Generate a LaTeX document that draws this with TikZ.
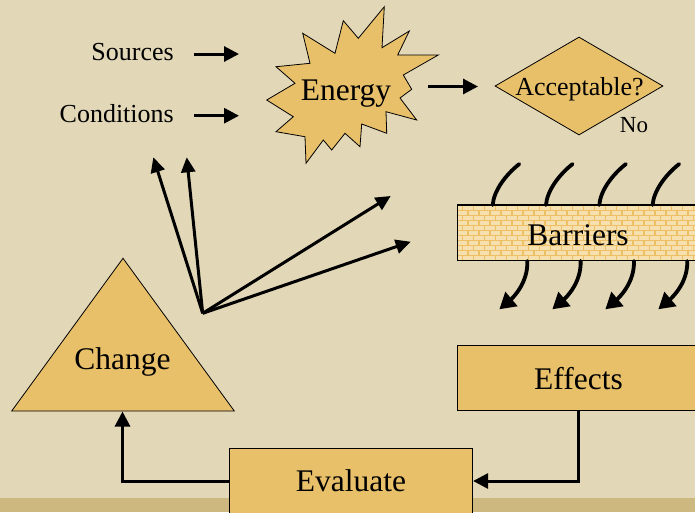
\documentclass[tikz,border=0pt]{standalone}
\usepackage{fontspec}
\setmainfont{Liberation Serif}
\usetikzlibrary{arrows.meta,shapes.geometric}
\definecolor{bgtan}{HTML}{E2D7B7}
\definecolor{striptan}{HTML}{CDB980}
\definecolor{boxfill}{HTML}{E9C06A}
\definecolor{mortar}{HTML}{EEC066}
\definecolor{brick}{HTML}{F7E0B0}
\begin{document}
\begin{tikzpicture}[x=1pt,y=-1pt,
  bigtext/.style={font=\fontsize{31.5}{36}\selectfont},
  smalltext/.style={font=\fontsize{26}{30}\selectfont},
  notext/.style={font=\fontsize{23}{26}\selectfont},
  boxed/.style={draw=black, line width=0.8pt, fill=boxfill},
  conn/.style={line width=3pt, -{Triangle[length=15pt,width=15pt]}},
  flow/.style={line width=3.8pt, line cap=round},
  flowarrow/.style={flow, -{Triangle[length=16pt,width=18pt]}},
]
\clip (0,0) rectangle (695,512);
% background and footer strip
\fill[bgtan] (0,0) rectangle (695,512);
\fill[striptan] (0,498) rectangle (695,512);

% inputs
\node[smalltext, anchor=base east, inner sep=0pt] (sources) at (174,60) {Sources};
\node[smalltext, anchor=base east, inner sep=0pt] (conditions) at (174,122) {Conditions};
\coordinate (srcfrom) at (194,54);
\coordinate (srcto) at (239,54);
\coordinate (condfrom) at (194,115.7);
\coordinate (condto) at (239,115.7);
\draw[conn] (srcfrom) -- (srcto);
\draw[conn] (condfrom) -- (condto);

% energy burst
\draw[boxed] (384.3,6.7) -- (382,47.7) -- (409.3,31) -- (397.7,55) -- (438.3,55)
  -- (403.3,75) -- (411.7,89.3) -- (400,98) -- (416.7,120) -- (386,111.7)
  -- (386.7,133.3) -- (361.7,124) -- (360,146.7) -- (345,133.3) -- (331.7,150)
  -- (323.3,140) -- (306,163.3) -- (305,136.7) -- (276,131.7) -- (293.3,116.7)
  -- (266.7,100) -- (295,83.3) -- (276,66.7) -- (310,63.3) -- (302.7,33.3)
  -- (335,53.3) -- (343.3,20.7) -- (358.3,38.3) -- cycle;
\node[bigtext, anchor=base, inner sep=0pt] (energy) at (346,100) {Energy};

% decision
\node[boxed, diamond, minimum width=168pt, minimum height=98pt, inner sep=0pt] (accept) at (579,86) {};
\node[smalltext, anchor=base, inner sep=0pt] (accepttext) at (579.5,95) {Acceptable?};
\node[notext, anchor=base, inner sep=0pt] (no) at (634,132.7) {No};
\coordinate (enfrom) at (428,86.5);
\coordinate (ento) at (478,86.5);
\draw[conn] (enfrom) -- (ento);

% barrier wall
\node[draw=black, line width=0.8pt, fill=mortar, minimum width=242.4pt, minimum height=55pt, inner sep=0pt] (barriers) at (578.5,232.5) {};
\begin{scope}
  \clip (barriers.south west) rectangle (barriers.north east);
  \foreach \r in {0,...,10} {
    \pgfmathsetmacro\brickoff{mod(\r,2)*5.5}
    \foreach \c in {0,...,22} {
      \fill[brick] ({452+\brickoff+\c*11},{205+\r*5+1}) rectangle ++(9.5,3.5);
    }
  }
\end{scope}
\draw[line width=0.8pt] (barriers.south west) rectangle (barriers.north east);
\node[bigtext, anchor=base, inner sep=0pt] (barrierstext) at (578,245) {Barriers};

% energy flows hitting and passing the barrier
\foreach \i in {0,...,3} {
  \coordinate (tin\i) at ({519.3+\i*53.3},164);
  \coordinate (tout\i) at ({492.7+\i*53.3},205);
  \draw[flow] (tin\i) .. controls +(-14,11) and +(1,-14) .. (tout\i);
  \coordinate (bin\i) at ({527.3+\i*53.3},261);
  \coordinate (bout\i) at ({499.3+\i*53},309.3);
  \draw[flowarrow] (bin\i) .. controls +(1,22) and +(13,-11) .. (bout\i);
}

% effects and evaluation loop
\node[boxed, bigtext, minimum width=242.4pt, minimum height=65pt, inner sep=0pt] (effects) at (578.5,378.2) {Effects};
\node[boxed, bigtext, minimum width=243.4pt, minimum height=65.4pt, inner sep=0pt] (evaluate) at (351,481) {Evaluate};
\draw[boxed] (123,258.3) -- (234.3,411) -- (11.7,411) -- cycle;
\node[bigtext, anchor=base, inner sep=0pt] (change) at (122.5,369.3) {Change};
\coordinate (chgbase) at (122.5,411.5);
\draw[conn] (effects.south) |- (evaluate.east);
\draw[conn] (evaluate.west) -| (chgbase);

% change fans out to the inputs
\coordinate (fan) at (202.7,313.3);
\coordinate (fan1) at (153.3,157.3);
\coordinate (fan2) at (186.7,157.3);
\coordinate (fan3) at (390.7,196);
\coordinate (fan4) at (410.7,241.7);
\foreach \t in {fan1,fan2,fan3,fan4}
  \draw[conn, -{Triangle[length=15pt,width=14pt]}] (fan) -- (\t);
\end{tikzpicture}
\end{document}
